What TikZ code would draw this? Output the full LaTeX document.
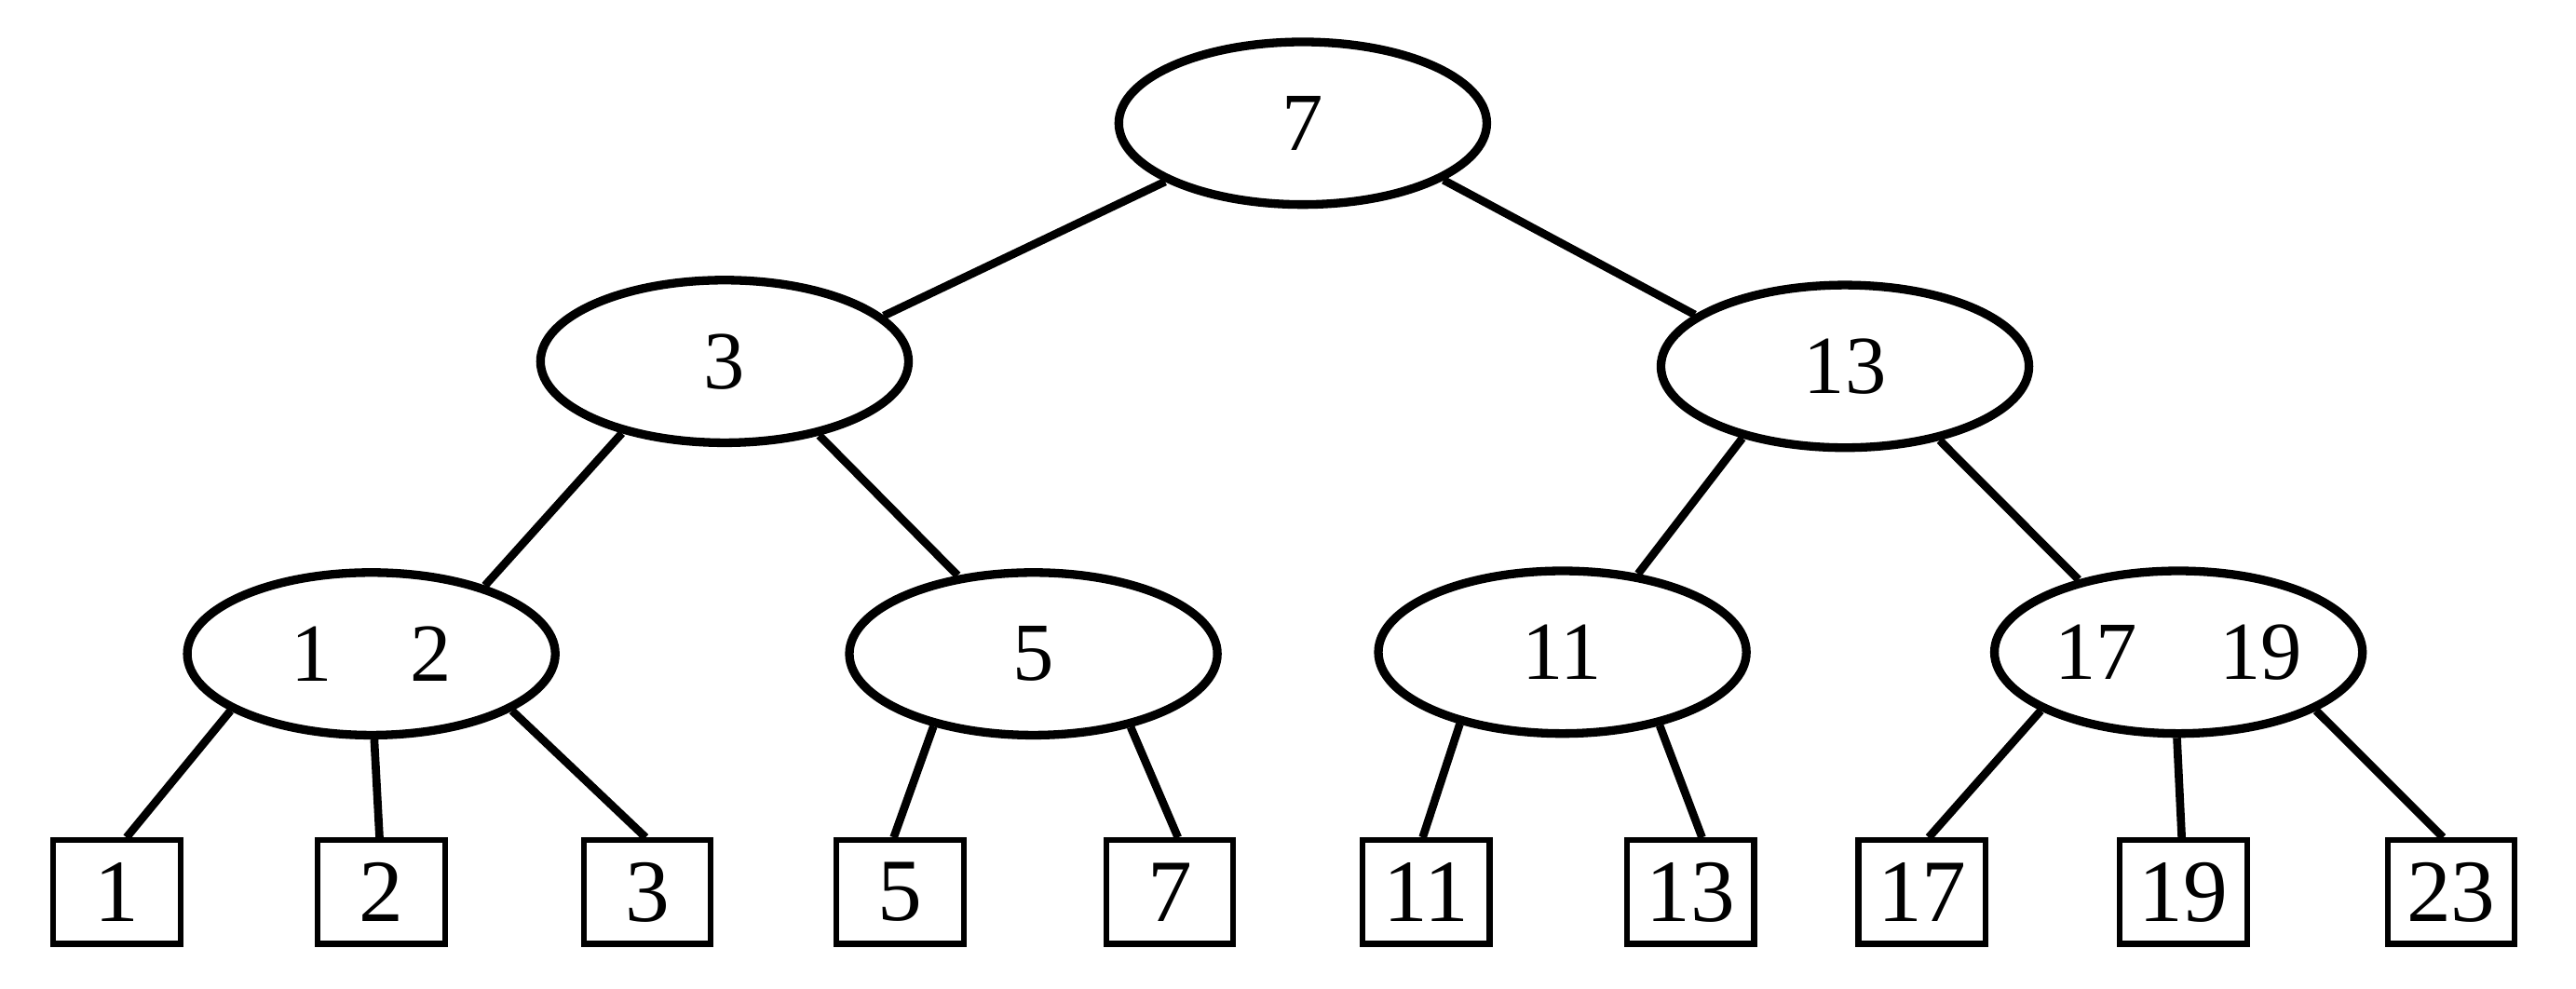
\documentclass[tikz,border=0pt]{standalone}
\usepackage{fontspec}
\setmainfont{Liberation Serif}
\usepackage{tikz}
\usetikzlibrary{shapes.geometric}
\tikzset{
	keynode/.style={ellipse, draw, line width=1.5pt, minimum width=2.24cm, minimum height=0.99cm, inner sep=0pt, font={\fontsize{14.3}{16}\selectfont}},
	leafbox/.style={rectangle, draw, line width=1pt, minimum width=0.775cm, minimum height=0.63cm, inner sep=0pt, font={\fontsize{15.4}{17}\selectfont}},
	branch/.style={line width=1.4pt}
}

\begin{document}
\begin{tikzpicture}

	\useasboundingbox (0,0) rectangle (15.68,6.02);

	% inner nodes
	\node (root) [keynode] at (7.93,5.27) {7};

	\node (key_3) [keynode] at (4.41,3.82) {3};
	\node (key_13) [keynode] at (11.23,3.79) {13};

	\node (key_1_2) [keynode] at (2.26,2.04) {1\hspace{0.95em}2};
	\node (key_5) [keynode] at (6.29,2.04) {5};
	\node (key_11) [keynode] at (9.51,2.05) {11};
	\node (key_17_19) [keynode] at (13.26,2.05) {17\quad 19};

	% leaves
	\node (leaf_1) [leafbox] at (0.71,0.59) {1};
	\node (leaf_2) [leafbox] at (2.32,0.59) {2};
	\node (leaf_3) [leafbox] at (3.94,0.59) {3};
	\node (leaf_5) [leafbox] at (5.48,0.59) {5};
	\node (leaf_7) [leafbox] at (7.12,0.59) {7};
	\node (leaf_11) [leafbox] at (8.68,0.59) {11};
	\node (leaf_13) [leafbox] at (10.29,0.59) {13};
	\node (leaf_17) [leafbox] at (11.70,0.59) {17};
	\node (leaf_19) [leafbox] at (13.29,0.59) {19};
	\node (leaf_23) [leafbox] at (14.92,0.59) {23};

	% branches
	\draw[branch] (root.203) -- (key_3.16);
	\draw[branch] (root.338) -- (key_13.161);

	\draw[branch] (key_3.215) -- (key_1_2.31);
	\draw[branch] (key_3.322) -- (key_5.134);
	\draw[branch] (key_13.215) -- (key_11.46);
	\draw[branch] (key_13.322) -- (key_17_19.144);

	\draw[branch] (key_1_2.202) -- ([xshift=0.06cm]leaf_1.north);
	\draw[branch] (key_1_2.272) -- ([xshift=-0.01cm]leaf_2.north);
	\draw[branch] (key_1_2.338) -- ([xshift=-0.01cm]leaf_3.north);
	\draw[branch] (key_5.216) -- ([xshift=-0.04cm]leaf_5.north);
	\draw[branch] (key_5.323) -- ([xshift=0.05cm]leaf_7.north);
	\draw[branch] (key_11.215) -- ([xshift=-0.02cm]leaf_11.north);
	\draw[branch] (key_11.323) -- ([xshift=0.07cm]leaf_13.north);
	\draw[branch] (key_17_19.203) -- ([xshift=0.04cm]leaf_17.north);
	\draw[branch] (key_17_19.269) -- ([xshift=-0.01cm]leaf_19.north);
	\draw[branch] (key_17_19.337) -- ([xshift=-0.05cm]leaf_23.north);

\end{tikzpicture}
\end{document}
